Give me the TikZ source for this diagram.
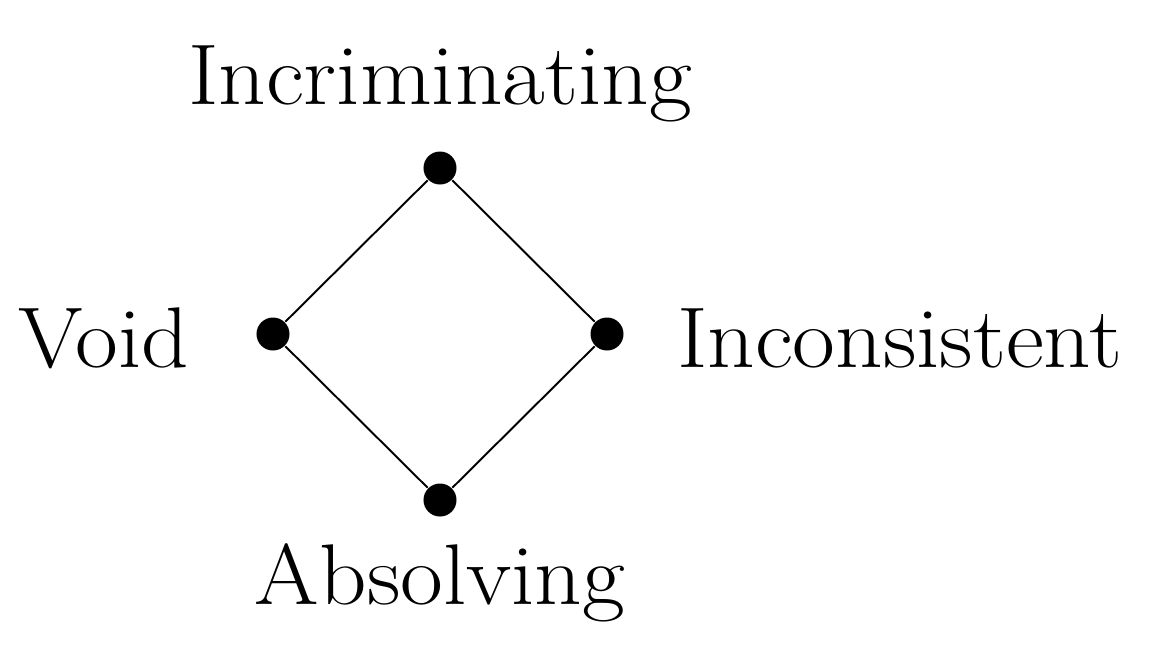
\documentclass[tikz,border=0pt]{standalone}
\usetikzlibrary{positioning}

\tikzset{
	dot/.style={circle, fill=black, inner sep=0pt, minimum size=0.33cm},
	lbl/.style={inner sep=0pt, xscale=1.08, transform shape, font=\fontsize{24.5}{29}\selectfont},
}

\begin{document}
\begin{tikzpicture}[x=0.01cm, y=-0.01cm, line width=0.55pt]

		\useasboundingbox (0,0) rectangle (1158,663);

		\node[dot](incr)  at (440,168) {};
		\node[dot](void)  at (273,334) {};
		\node[dot](incon) at (607,334) {};
		\node[dot](absol) at (440,500) {};

		\node[lbl, anchor=base]      (l_incr)  at (440,104) {Incriminating};
		\node[lbl, anchor=base east] (l_void)  at (190,367) {Void};
		\node[lbl, anchor=base west] (l_incon) at (676,367) {Inconsistent};
		\node[lbl, anchor=base]      (l_absol) at (440,604) {Absolving};

		\draw (incr) -- (void);
		\draw (incr) -- (incon);
		\draw (void) -- (absol);
		\draw (incon) -- (absol);

	\end{tikzpicture}
\end{document}
